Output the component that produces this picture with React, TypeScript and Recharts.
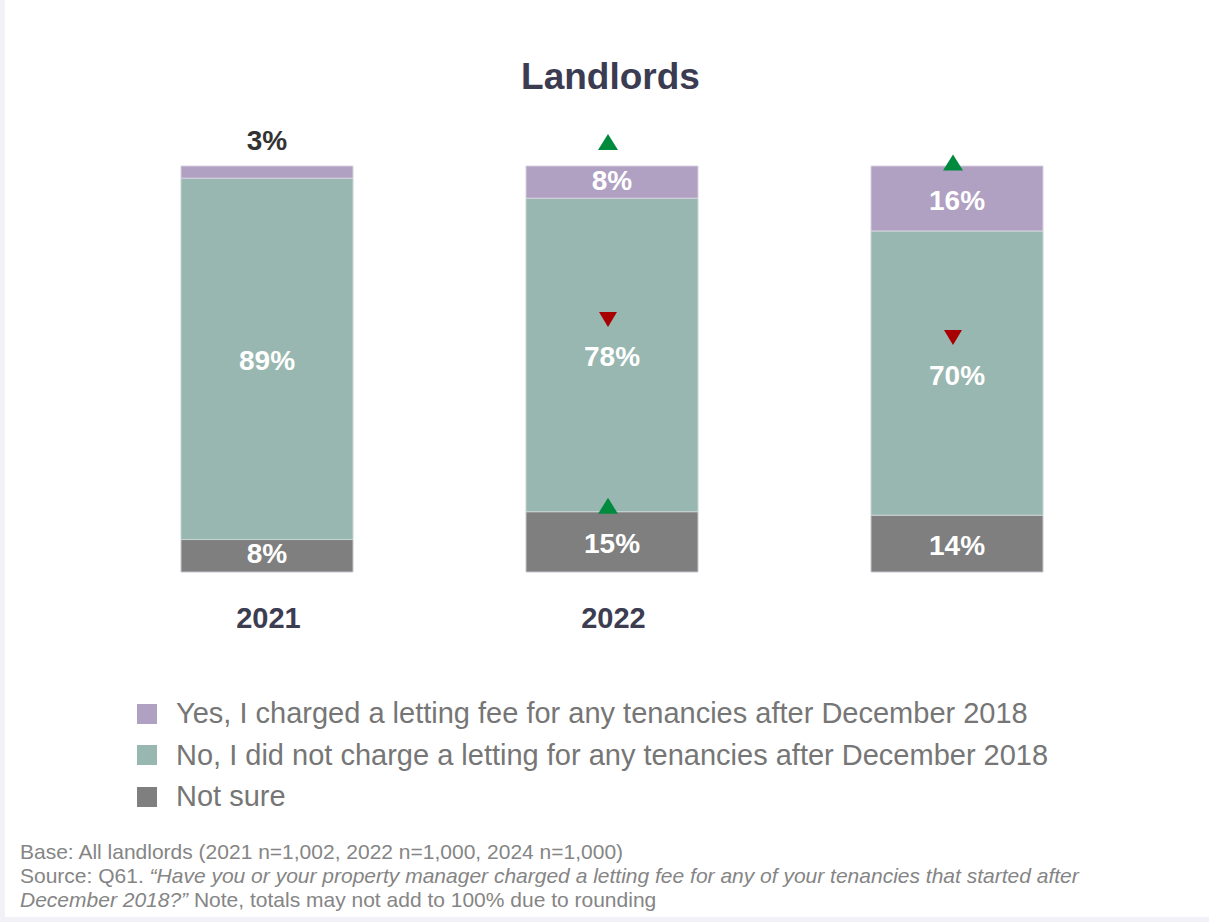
import React from "react";
import { BarChart, Bar, XAxis, YAxis, LabelList } from "recharts";

const years = ["2021", "2022", "2024"];
const tickLabels = ["2021", "2022", ""];
const yesValues = [3, 8, 16];
const noValues = [89, 78, 70];
const notSureValues = [8, 15, 14];
// significance markers per year
const yesSig = [null, "up", "up"];
const noSig = [null, "down", "down"];
const notSureSig = [null, "up", null];

const seriesNames = [
  "Yes, I charged a letting fee for any tenancies after December 2018",
  "No, I did not charge a letting for any tenancies after December 2018",
  "Not sure",
];

const PURPLE = "#b0a0c2";
const GREEN = "#98b7b0";
const GREY = "#7f7f7f";
const FONT = "'Liberation Sans', Arial, sans-serif";

const data = years.map((year, i) => ({
  year,
  yes: yesValues[i],
  no: noValues[i],
  notSure: notSureValues[i],
}));

const makeLabel = (values: number[], sig: (string | null)[]) =>
  // eslint-disable-next-line @typescript-eslint/no-explicit-any
  (props: any) => {
    const x = Number(props.x);
    const y = Number(props.y);
    const width = Number(props.width);
    const height = Number(props.height);
    const i = props.index;
    const v = values[i];
    const cx = x + width / 2;
    const small = v < 5;
    const cy = small ? y - 26 : y + height / 2 + (height < 40 ? -2 : 2);
    const mark = sig[i];
    const ty = cy - 38;
    const tx = cx - 4;
    return (
      <g>
        <text
          x={cx}
          y={cy}
          textAnchor="middle"
          dominantBaseline="central"
          fill={small ? "#333333" : "#ffffff"}
          fontSize={28}
          fontWeight="bold"
          fontFamily={FONT}
        >
          {v}%
        </text>
        {mark === "up" && (
          <polygon
            points={`${tx - 10},${ty + 8} ${tx + 10},${ty + 8} ${tx},${ty - 8}`}
            fill="#008a3e"
          />
        )}
        {mark === "down" && (
          <polygon
            points={`${tx - 9},${ty - 7} ${tx + 9},${ty - 7} ${tx},${ty + 8}`}
            fill="#a80000"
          />
        )}
      </g>
    );
  };

// eslint-disable-next-line @typescript-eslint/no-explicit-any
const YearTick = (props: any) => {
  const { x, y, index } = props;
  return (
    <text
      x={x + 2}
      y={y + 48}
      textAnchor="middle"
      fill="#3d3d52"
      fontSize={29}
      fontWeight="bold"
      fontFamily={FONT}
    >
      {tickLabels[index]}
    </text>
  );
};

const App = () => {
  return (
    <div
      style={{
        position: "absolute",
        left: 0,
        top: 0,
        width: 1209,
        height: 922,
        background: "#f1f1f7",
        fontFamily: FONT,
      }}
    >
      <div
        style={{
          position: "absolute",
          left: 5,
          top: 0,
          width: 1204,
          height: 917,
          background: "#ffffff",
        }}
      />
      <div
        style={{
          position: "absolute",
          left: 0,
          top: 56,
          width: 1221,
          textAlign: "center",
          fontSize: 37,
          fontWeight: "bold",
          color: "#3b3b52",
        }}
      >
        Landlords
      </div>
      <div style={{ position: "absolute", left: 0, top: 0 }}>
        <BarChart
          width={1209}
          height={660}
          data={data}
          stackOffset="expand"
          margin={{ top: 166, right: 80, left: 94, bottom: 28 }}
        >
          <XAxis
            dataKey="year"
            axisLine={false}
            tickLine={false}
            height={60}
            tick={<YearTick />}
            interval={0}
          />
          <YAxis hide domain={[0, 1]} />
          <Bar
            dataKey="notSure"
            stackId="a"
            fill={GREY}
            stroke="#c8c8d0"
            strokeWidth={1}
            barSize={172}
            isAnimationActive={false}
          >
            <LabelList content={makeLabel(notSureValues, notSureSig)} />
          </Bar>
          <Bar
            dataKey="no"
            stackId="a"
            fill={GREEN}
            stroke="#c8d4d2"
            strokeWidth={1}
            barSize={172}
            isAnimationActive={false}
          >
            <LabelList content={makeLabel(noValues, noSig)} />
          </Bar>
          <Bar
            dataKey="yes"
            stackId="a"
            fill={PURPLE}
            stroke="#d8d0e0"
            strokeWidth={1}
            barSize={172}
            isAnimationActive={false}
          >
            <LabelList content={makeLabel(yesValues, yesSig)} />
          </Bar>
        </BarChart>
      </div>
      <div style={{ position: "absolute", left: 137, top: 693 }}>
        {seriesNames.map((name, i) => (
          <div
            key={name}
            style={{
              display: "flex",
              alignItems: "center",
              height: 41.5,
              fontSize: 29,
              color: "#767676",
            }}
          >
            <span
              style={{
                display: "inline-block",
                width: 20,
                height: 20,
                marginRight: 19,
                background: [PURPLE, GREEN, GREY][i],
              }}
            />
            {name}
          </div>
        ))}
      </div>
      <div
        style={{
          position: "absolute",
          left: 20,
          top: 840,
          fontSize: 21,
          lineHeight: "24px",
          color: "#858585",
        }}
      >
        <div>Base: All landlords (2021 n=1,002, 2022 n=1,000, 2024 n=1,000)</div>
        <div>
          Source: Q61.{" "}
          <i>
            “Have you or your property manager charged a letting fee for any of your
            tenancies that started after
          </i>
        </div>
        <div>
          <i>December 2018?”</i> Note, totals may not add to 100% due to rounding
        </div>
      </div>
    </div>
  );
};

export default App;
